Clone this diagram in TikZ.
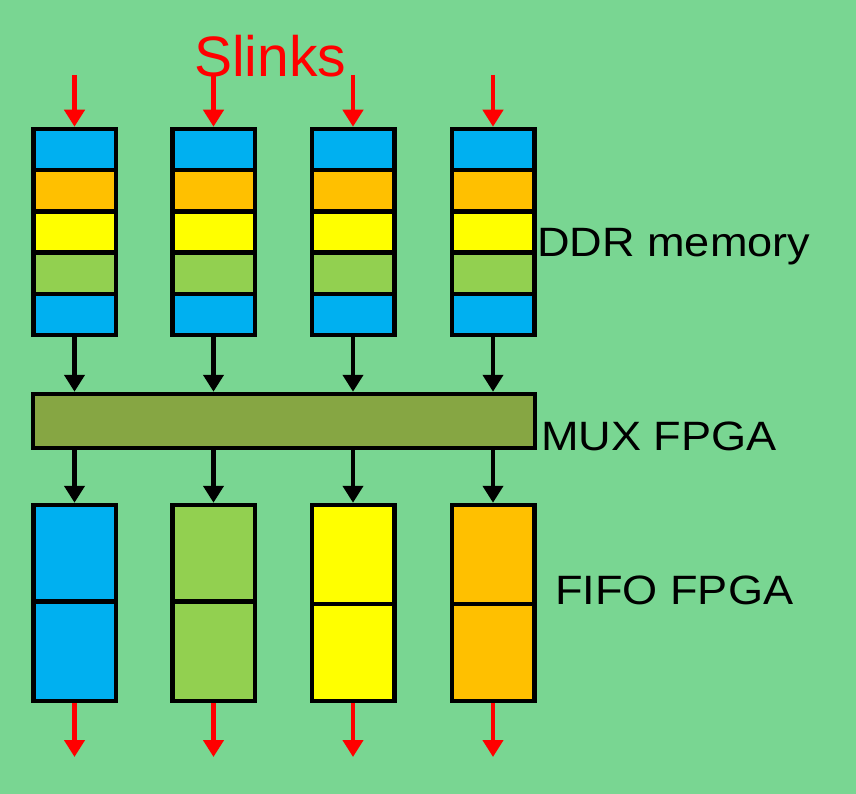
\documentclass[tikz,border=0pt]{standalone}
\usepackage{fontspec}
\setmainfont{Liberation Sans}
\newfontfamily\widefont[FakeStretch=1.1]{Liberation Sans}
\usetikzlibrary{arrows.meta}
\definecolor{bg}{RGB}{121,214,146}
\definecolor{cblue}{RGB}{0,176,240}
\definecolor{corange}{RGB}{255,192,0}
\definecolor{cyellow}{RGB}{255,255,0}
\definecolor{cgreen}{RGB}{146,208,80}
\definecolor{cmux}{RGB}{134,166,67}
\tikzset{
  seg/.style={draw=black, line width=4.5pt, minimum width=82.5pt, inner sep=0pt, outer sep=2.25pt},
  redarrow/.style={draw=red, line width=4.5pt, -{Triangle[width=20pt,length=17pt]}},
  blackarrow/.style={draw=black, line width=4.5pt, -{Triangle[width=20pt,length=17pt]}},
  lbl/.style={inner sep=0pt, font=\widefont\fontsize{41}{41}\selectfont, anchor=base west}
}
\begin{document}
\begin{tikzpicture}[x=1pt,y=1pt]
\fill[bg] (0,0) rectangle (856,-794);
\useasboundingbox (0,0) rectangle (856,-794);

% DDR memory columns
\foreach \i/\cx in {1/74.5,2/213.5,3/353,4/493}{
  \node[seg, fill=cblue,   minimum height=41.2pt] (d\i1) at (\cx,-149.6) {};
  \node[seg, fill=corange, minimum height=41.2pt] (d\i2) at (\cx,-190.8) {};
  \node[seg, fill=cyellow, minimum height=41.2pt] (d\i3) at (\cx,-232.0) {};
  \node[seg, fill=cgreen,  minimum height=41.2pt] (d\i4) at (\cx,-273.2) {};
  \node[seg, fill=cblue,   minimum height=41.2pt] (d\i5) at (\cx,-314.4) {};
  \coordinate (in\i) at (\cx,-75);
  \coordinate (out\i) at (\cx,-757);
}

% MUX FPGA
\node[seg, fill=cmux, minimum width=502pt, minimum height=54pt] (mux) at (284,-421) {};

% FIFO FPGA columns
\node[seg, fill=cblue,   minimum height=96.5pt] (f11) at (74.5,-553.25) {};
\node[seg, fill=cblue,   minimum height=99.5pt] (f12) at (74.5,-651.25) {};
\node[seg, fill=cgreen,  minimum height=96.5pt] (f21) at (213.5,-553.25) {};
\node[seg, fill=cgreen,  minimum height=99.5pt] (f22) at (213.5,-651.25) {};
\node[seg, fill=cyellow, minimum height=99pt]   (f31) at (353,-554.5) {};
\node[seg, fill=cyellow, minimum height=97pt]   (f32) at (353,-652.5) {};
\node[seg, fill=corange, minimum height=99pt]   (f41) at (493,-554.5) {};
\node[seg, fill=corange, minimum height=97pt]   (f42) at (493,-652.5) {};

% arrows
\foreach \i in {1,2,3,4}{
  \draw[redarrow] (in\i) -- (d\i1.north);
  \draw[blackarrow] (d\i5.south) -- (d\i5.south |- mux.north);
  \draw[blackarrow] (f\i1.north |- mux.south) -- (f\i1.north);
  \draw[redarrow] (f\i2.south) -- (out\i);
}

% labels
\node[inner sep=0pt, anchor=base west, text=red, font=\fontsize{57}{57}\selectfont] (slinks) at (194,-77) {Slinks};
\node[lbl] (ddr) at (537,-257) {DDR memory};
\node[lbl] (muxl) at (541,-450) {MUX FPGA};
\node[lbl] (fifo) at (555,-604) {FIFO FPGA};
\end{tikzpicture}
\end{document}
